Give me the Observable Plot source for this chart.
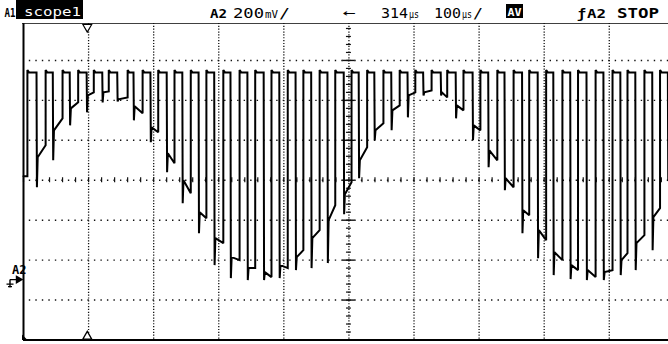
<!DOCTYPE html>
<html>
<head>
<meta charset="utf-8">
<script src="https://cdn.jsdelivr.net/npm/d3@7"></script>
<script src="https://cdn.jsdelivr.net/npm/@observablehq/plot@0.6"></script>
<style>
  html, body { margin: 0; padding: 0; background: #fff; overflow: hidden; }
  #screen { position: relative; width: 668px; height: 344px; }
  #screen > svg { position: absolute; left: 0; top: 0; }
  #status text { font-family: "DejaVu Sans Mono", monospace; }
</style>
</head>
<body>
<div id="screen">
<svg id="status" width="668" height="24">
  <rect width="668" height="23.2" fill="#fff"/>
  <line x1="22" x2="668" y1="23.8" y2="23.8" stroke="#000" stroke-width="1.3"/>
  <text x="4.5" y="17" font-weight="bold" font-size="13" textLength="11" lengthAdjust="spacingAndGlyphs">A1</text>
  <rect x="16" y="0" width="67" height="19" fill="#000"/>
  <text x="24" y="16" fill="#fff" font-size="13" textLength="57" lengthAdjust="spacingAndGlyphs">scope1</text>

  <text x="210" y="17.5" font-weight="bold" font-size="13" textLength="17" lengthAdjust="spacingAndGlyphs">A2</text>
  <text x="233" y="17.5" font-size="13.5" textLength="31" lengthAdjust="spacingAndGlyphs">200</text>
  <text x="265" y="17.5" font-size="10" textLength="13" lengthAdjust="spacingAndGlyphs">mV</text>
  <text x="279" y="17.5" font-size="13.5" textLength="11" lengthAdjust="spacingAndGlyphs">/</text>

  <text x="343" y="17" font-size="13" textLength="13" lengthAdjust="spacingAndGlyphs">←</text>
  <text x="381" y="17.5" font-size="13.5" textLength="27" lengthAdjust="spacingAndGlyphs">314</text>
  <text x="409" y="17.5" font-size="10" textLength="10" lengthAdjust="spacingAndGlyphs">µs</text>
  <text x="434" y="17.5" font-size="13.5" textLength="27" lengthAdjust="spacingAndGlyphs">100</text>
  <text x="462" y="17.5" font-size="10" textLength="10" lengthAdjust="spacingAndGlyphs">µs</text>
  <text x="473" y="17.5" font-size="13.5" textLength="10" lengthAdjust="spacingAndGlyphs">/</text>

  <rect x="506" y="4" width="17" height="14" fill="#000"/>
  <text x="507.5" y="15.5" fill="#fff" font-size="10" font-weight="bold" textLength="14" lengthAdjust="spacingAndGlyphs">AV</text>

  <text x="577" y="17.5" font-weight="bold" font-size="13" textLength="9" lengthAdjust="spacingAndGlyphs">ƒ</text>
  <text x="587" y="17.5" font-weight="bold" font-size="13" textLength="19" lengthAdjust="spacingAndGlyphs">A2</text>
  <text x="617" y="17.5" font-weight="bold" font-size="13.5" textLength="42" lengthAdjust="spacingAndGlyphs">STOP</text>
</svg>
</div>
<script>
// Channel A2 at 200 mV/div, timebase 100 µs/div.
// Times are µs from the left edge of the screen, levels in volts above the A2 ground.

// Rising edges of each pulse
const riseT = [6, 34, 60, 84, 108, 131, 160, 183, 207, 232, 257, 281, 307, 332, 356, 381, 406, 430, 455, 479,
               504, 528, 553, 578, 602, 627, 651, 676, 702, 728, 753, 777, 803, 828, 852, 879, 905, 928, 954, 978];
// Falling edges of each pulse
const fallT = [20, 45, 71, 97, 121, 144, 169, 195, 220, 244, 269, 293, 318, 344, 369, 393, 418, 442, 467, 492,
               515, 539, 565, 590, 614, 641, 664, 690, 714, 739, 766, 790, 814, 840, 865, 891, 917, 940, 966, 990];
// Lowest point reached right after each falling edge
const minV = [0.465, 0.60, 0.775, 0.84, 0.89, 0.895, 0.80, 0.69, 0.54, 0.385, 0.235, 0.075, 0.01, 0.0, 0.0, 0.01, 0.05, 0.06, 0.085, 0.33,
              0.51, 0.70, 0.75, 0.815, 0.925, 0.925, 0.81, 0.70, 0.565, 0.45, 0.235, 0.11, 0.025, 0.005, 0.0, 0.0, 0.025, 0.05, 0.15, 0.50];
// Level the trace settles to after that spike
const hookV = [0.615, 0.75, 0.86, 0.925, 0.94, 0.905, 0.87, 0.765, 0.635, 0.50, 0.34, 0.21, 0.115, 0.06, 0.04, 0.075, 0.115, 0.21, 0.30, 0.43,
               0.60, 0.75, 0.85, 0.925, 0.94, 0.94, 0.875, 0.775, 0.65, 0.51, 0.35, 0.25, 0.14, 0.075, 0.05, 0.04, 0.10, 0.185, 0.315];
// Level just before the next rising edge
const settleV = [0.675, 0.81, 0.89, 0.94, 0.945, 0.915, 0.835, 0.74, 0.585, 0.435, 0.31, 0.185, 0.10, 0.06, 0.015, 0.06, 0.15, 0.25, 0.375, 0.49,
                 0.665, 0.785, 0.875, 0.94, 0.95, 0.915, 0.85, 0.75, 0.60, 0.465, 0.325, 0.20, 0.10, 0.05, 0.015, 0.05, 0.135, 0.225, 0.36];
const startV = 0.52;
const highV = 1.04;
const overshootV = 1.052;

// Graticule: 10 x 8 divisions (the right edge of the screen is cut at ~9.9 div)
const timeDomain = [0, 991];
const voltDomain = [-0.3, 1.3];
const timeDivs = [100, 200, 300, 400, 500, 600, 700, 800, 900];
const voltDivs = [-0.1, 0.1, 0.3, 0.5, 0.7, 0.9, 1.1];
const centerT = 500;
const centerV = 0.5;
const groundV = 0;
const markerT = 98;

// Trace vertices
const trace = [{t: 0, v: startV}];
let level = startV;
for (let k = 0; k < riseT.length; k++) {
  trace.push({t: riseT[k], v: level});
  trace.push({t: riseT[k], v: overshootV});
  trace.push({t: riseT[k] + 2.5, v: highV});
  trace.push({t: fallT[k], v: highV});
  trace.push({t: fallT[k] + 0.6, v: minV[k]});
  if (k < hookV.length) {
    trace.push({t: fallT[k] + 1.8, v: hookV[k]});
    level = settleV[k];
  }
}

// Tick marks along the centre cross (every 0.2 div)
const centreTicksT = d3.range(0, timeDomain[1], 20);
const centreTicksV = d3.range(voltDomain[0], voltDomain[1] + 1e-9, 0.04);
const majorTicksV = d3.range(voltDomain[0], voltDomain[1] + 1e-9, 0.2);

const chart = Plot.plot({
  width: 668,
  height: 344,
  marginTop: 20,
  marginBottom: 4.5,
  marginLeft: 23,
  marginRight: 0,
  x: {domain: timeDomain, axis: null},
  y: {domain: voltDomain, axis: null},
  style: {background: "white", overflow: "visible"},
  marks: [
    Plot.ruleY(voltDivs, {stroke: "#111", strokeWidth: 1.4, strokeDasharray: "1.4,5.11", strokeDashoffset: 0.7}),
    Plot.ruleX(timeDivs, {stroke: "#111", strokeWidth: 1.3, strokeDasharray: "1.2,1.66"}),
    Plot.ruleX(centreTicksT, {x: d => d, y1: centerV - 0.0125, y2: centerV + 0.0125, stroke: "#111", strokeWidth: 1.2}),
    Plot.ruleY(centreTicksV, {y: d => d, x1: centerT - 3.8, x2: centerT + 3.8, stroke: "#111", strokeWidth: 1.2}),
    Plot.ruleY(majorTicksV, {y: d => d, x1: centerT - 9.5, x2: centerT + 9.5, stroke: "#111", strokeWidth: 1.4}),
    Plot.line(trace, {x: "t", y: "v", stroke: "#000", strokeWidth: 2, strokeLinejoin: "miter", strokeMiterlimit: 2}),
    Plot.ruleX([timeDomain[0]], {stroke: "#000", strokeWidth: 2}),
    Plot.ruleY([voltDomain[0]], {stroke: "#000", strokeWidth: 2}),
    Plot.dot([markerT], {x: d => d, frameAnchor: "top", dy: 6.5, symbol: "triangle", rotate: 180, r: 3.3, fill: "white", stroke: "#000", strokeWidth: 1.2}),
    Plot.dot([markerT], {x: d => d, frameAnchor: "bottom", dy: -3.5, symbol: "triangle", r: 3.3, fill: "white", stroke: "#000", strokeWidth: 1.3}),
    Plot.text([groundV], {y: d => d, frameAnchor: "left", dx: -11.5, dy: -9.5, text: () => "A2", fontWeight: "bold", fontSize: 12, fontFamily: "DejaVu Sans Mono", fill: "#000"})
  ]
});

// Ground reference arrow for channel A2, placed with the chart's own y scale
const gy = chart.scale("y").apply(groundV);
const g = d3.select(chart).append("g").attr("transform", `translate(23,${gy})`).attr("fill", "none").attr("stroke", "#000").attr("stroke-width", 1.4);
g.append("path").attr("d", "M-13,0H-5M-13,0V8M-16.5,4.5H-9.5M-15,7H-11");
g.append("path").attr("d", "M-6.5,-3.2L-1,0L-6.5,3.2Z").attr("fill", "#000");
// Corner foot of the screen frame
d3.select(chart).append("path").attr("d", "M22,340V334.5L27.5,340Z").attr("fill", "#000");

const screen = document.getElementById("screen");
screen.insertBefore(chart, screen.firstChild);
</script>
</body>
</html>
